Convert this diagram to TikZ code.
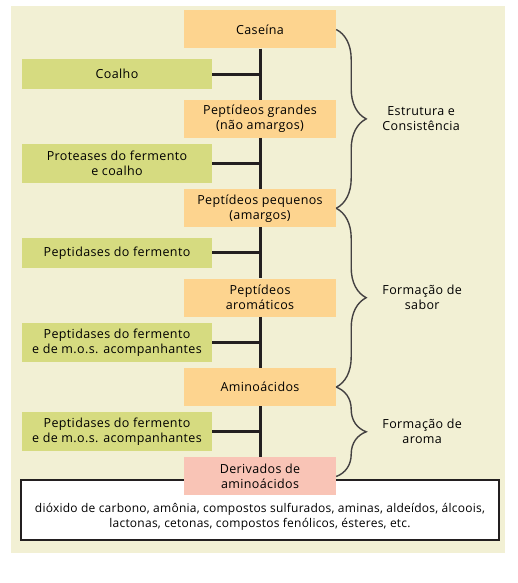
\documentclass[tikz,border=0pt]{standalone}
\usepackage{fontspec}
\setmainfont{Open Sans}
\newfontfamily\caixafont[LetterSpace=3]{Open Sans}
\newfontfamily\listafont[LetterSpace=2]{Open Sans}
\usepackage{tikz}
\usetikzlibrary{positioning,calc,decorations.pathreplacing}
\definecolor{queijobg}{RGB}{242,240,212}
\definecolor{queijolaranja}{RGB}{253,212,143}
\definecolor{queijoverde}{RGB}{214,219,128}
\definecolor{queijorosa}{RGB}{249,196,182}
\definecolor{queijolinha}{RGB}{35,31,32}

\begin{document}
\begin{tikzpicture}[
    x=1pt, y=1pt,
    node distance=51pt,
    stage/.style={fill=queijolaranja, minimum width=152pt, minimum height=38pt, inner sep=0pt, font=\caixafont\fontsize{12.5}{15}\selectfont, align=center},
    agent/.style={fill=queijoverde, minimum width=190pt, minimum height=30pt, inner sep=0pt, font=\caixafont\fontsize{12.5}{15}\selectfont, align=center},
    link/.style={line width=3pt, queijolinha},
    chave/.style={decorate, decoration={brace, amplitude=30pt}, line width=1.4pt, queijolinha!85},
    fase/.style={font=\caixafont\fontsize{12.5}{15}\selectfont, align=center}
]
    \useasboundingbox (0,0) rectangle (517,583);
    \fill[queijobg] (11,30) rectangle (505,577);
    \node[draw=queijolinha, line width=2pt, fill=white, minimum width=478pt, minimum height=60pt] (produtos) at (260,73) {};

    \node[stage] (caseina) at (260,553.5) {Caseína};
    \node[stage, below=of caseina] (grandes) {Peptídeos grandes\\(não amargos)};
    \node[stage, below=of grandes] (pequenos) {Peptídeos pequenos\\(amargos)};
    \node[stage, below=of pequenos] (aromaticos) {Peptídeos\\aromáticos};
    \node[stage, below=of aromaticos] (amino) {Aminoácidos};
    \node[stage, fill=queijorosa, below=of amino] (derivados) {Derivados de\\aminoácidos};

    \node[agent] (coalho) at ($(caseina)!0.5!(grandes)+(-143,0)$) {Coalho};
    \node[agent, minimum height=39pt] (proteases) at ($(grandes)!0.5!(pequenos)+(-143,0)$) {Proteases do fermento\\e coalho};
    \node[agent] (peptidases) at ($(pequenos)!0.5!(aromaticos)+(-143,0)$) {Peptidases do fermento};
    \node[agent, minimum height=39pt] (mos1) at ($(aromaticos)!0.5!(amino)+(-143,0)$) {Peptidases do fermento\\e de m.o.s. acompanhantes};
    \node[agent, minimum height=39pt] (mos2) at ($(amino)!0.5!(derivados)+(-143,0)$) {Peptidases do fermento\\e de m.o.s. acompanhantes};

    \node[font=\listafont\fontsize{12}{15}\selectfont, align=center] (lista) at ($(produtos)+(0,-7)$) {dióxido de carbono, amônia, compostos sulfurados, aminas, aldeídos, álcoois,\\lactonas, cetonas, compostos fenólicos, ésteres, etc.};

    \draw[link] (caseina) -- (grandes);
    \draw[link] (grandes) -- (pequenos);
    \draw[link] (pequenos) -- (aromaticos);
    \draw[link] (aromaticos) -- (amino);
    \draw[link] (amino) -- (derivados);
    \draw[link] (coalho) -- (coalho -| caseina);
    \draw[link] (proteases) -- (proteases -| caseina);
    \draw[link] (peptidases) -- (peptidases -| caseina);
    \draw[link] (mos1) -- (mos1 -| caseina);
    \draw[link] (mos2) -- (mos2 -| caseina);

    % chaves das fases
    \draw[chave] (caseina.east) -- (pequenos.east);
    \draw[chave] (pequenos.east) -- (amino.east);
    \draw[chave] (amino.east) -- (derivados.east);
    \node[fase] (estrutura) at ($(caseina.east)!0.5!(pequenos.east)+(85,0)$) {Estrutura e\\Consistência};
    \node[fase] (sabor) at ($(pequenos.east)!0.5!(amino.east)+(86,0)$) {Formação de\\sabor};
    \node[fase] (aroma) at ($(amino.east)!0.5!(derivados.east)+(86,0)$) {Formação de\\aroma};
\end{tikzpicture}
\end{document}
